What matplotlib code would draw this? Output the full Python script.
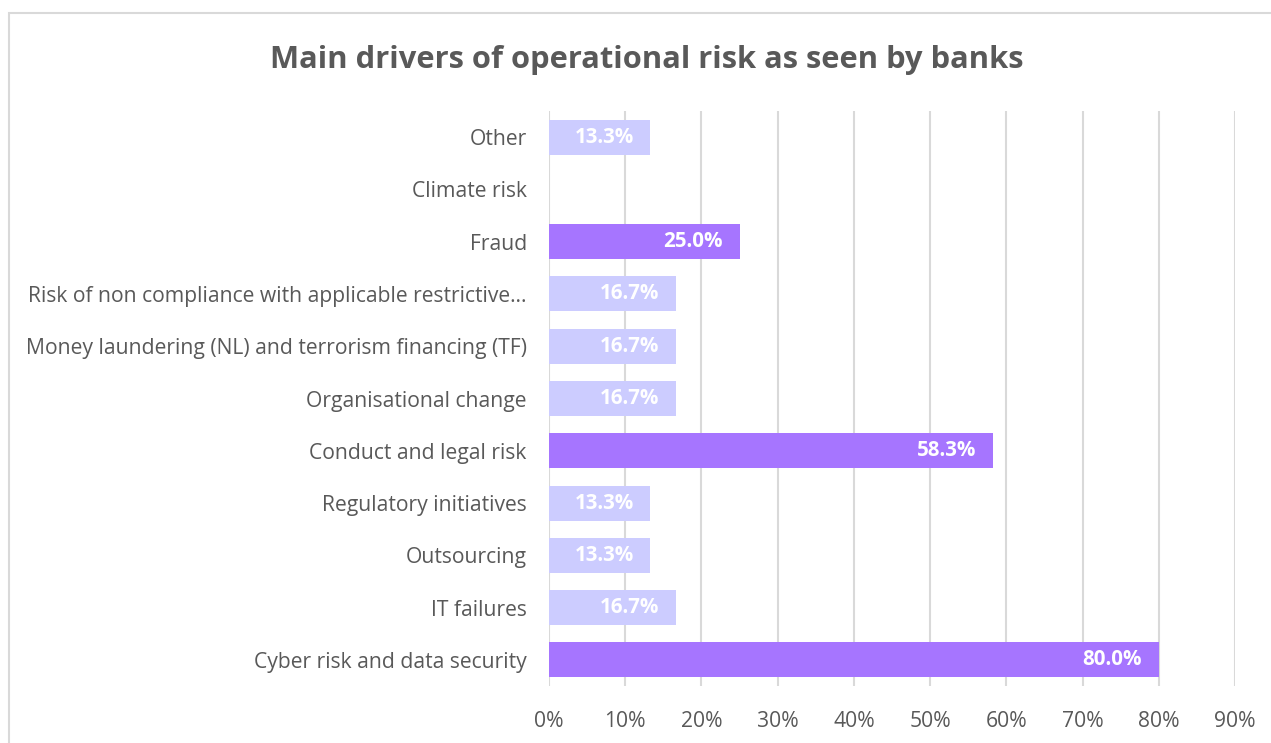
import matplotlib
matplotlib.use('Agg')
import matplotlib.pyplot as plt
from matplotlib.patches import Rectangle
from matplotlib.ticker import PercentFormatter

# data, bottom to top
categories = [
    "Cyber risk and data security",
    "IT failures",
    "Outsourcing",
    "Regulatory initiatives",
    "Conduct and legal risk",
    "Organisational change",
    "Money laundering (NL) and terrorism financing (TF)",
    "Risk of non compliance with applicable restrictive\u2026",
    "Fraud",
    "Climate risk",
    "Other",
]
shares = [80.0, 16.7, 13.3, 13.3, 58.3, 16.7, 16.7, 16.7, 25.0, 0.0, 13.3]
highlighted = ["Cyber risk and data security", "Conduct and legal risk", "Fraud"]
x_ticks = [0, 10, 20, 30, 40, 50, 60, 70, 80, 90]

plt.rcParams['font.family'] = ['Open Sans', 'DejaVu Sans']
text_color = "#595959"
light = "#CCCCFF"
dark = "#A675FF"

fig = plt.figure(figsize=(12.71, 7.43), dpi=100)
ax = fig.add_axes([549 / 1271, (743 - 686) / 743, (1235 - 549) / 1271, (686 - 111) / 743])

colors = [dark if c in highlighted else light for c in categories]
ypos = list(range(len(categories)))
ax.barh(ypos, shares, height=0.67, color=colors, zorder=3)

for y, v in zip(ypos, shares):
    if v > 0:
        ax.annotate(f"{v:.1f}%", xy=(v, y), xytext=(-12, 0), textcoords="offset points",
                    ha="right", va="center", color="white", fontsize=14.8,
                    fontweight="bold", zorder=4)

ax.set_xlim(0, 90)
ax.set_ylim(-0.5, len(categories) - 0.5)
ax.set_xticks(x_ticks)
ax.xaxis.set_major_formatter(PercentFormatter(decimals=0))
ax.set_yticks(ypos)
ax.set_yticklabels(categories)
ax.tick_params(axis="both", length=0, labelsize=15.2, colors=text_color)
ax.tick_params(axis="x", pad=18)
ax.tick_params(axis="y", pad=16)
ax.grid(axis="x", color="#D9D9D9", linewidth=1.5, zorder=0)
for s in ax.spines.values():
    s.set_visible(False)

fig.text(647 / 1271, (743 - 60) / 743, "Main drivers of operational risk as seen by banks",
         ha="center", va="center", fontsize=22.2, fontweight="bold", color=text_color)

# chart border, cropped at right and bottom
fig.patches.append(Rectangle((9 / 1271, -0.05), 1.2, (743 - 13) / 743 + 0.05,
                             transform=fig.transFigure, fill=False,
                             edgecolor="#D9D9D9", linewidth=1.5))

fig.savefig("out.png", dpi=100)
